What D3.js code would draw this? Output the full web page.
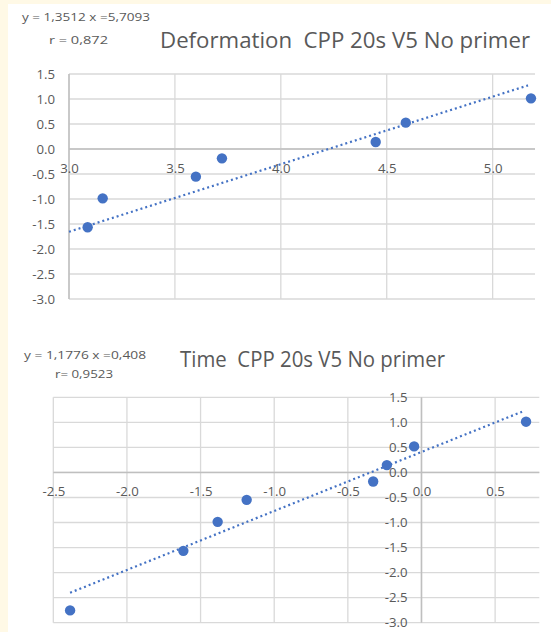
<!DOCTYPE html>
<html>
<head>
<meta charset="utf-8">
<script src="https://cdn.jsdelivr.net/npm/d3@7"></script>
<style>
  html, body { margin: 0; padding: 0; background: #FFF9E6; }
  svg { display: block; }
  text { font-family: "Open Sans", "Noto Sans", sans-serif; fill: #595959; }
</style>
</head>
<body>
<svg id="chart" width="551" height="632"></svg>
<script>
// ---- Data ----
const defX = [3.088, 3.159, 3.599, 3.722, 4.448, 4.590, 5.181];
const defY = [-1.566, -0.987, -0.553, -0.187, 0.140, 0.527, 1.013];
const defTrend = [1.3512, -5.7093];          // slope, intercept
const defTrendRange = [3.0, 5.167];
const defXTicks = [3.0, 3.5, 4.0, 4.5, 5.0];
const defYTicks = [1.5, 1.0, 0.5, 0.0, -0.5, -1.0, -1.5, -2.0, -2.5, -3.0];
const defTitle = "Deformation  CPP 20s V5 No primer";
const defEq = "y = 1,3512 x =5,7093";
const defR = "r = 0,872";

const timeX = [-2.386, -1.617, -1.384, -1.187, -0.328, -0.235, -0.050, 0.710];
const timeY = [-2.754, -1.566, -0.987, -0.547, -0.180, 0.146, 0.520, 1.013];
const timeTrend = [1.1776, 0.408];
const timeTrendRange = [-2.386, 0.683];
const timeXTicks = [-2.5, -2.0, -1.5, -1.0, -0.5, 0.0, 0.5];
const timeYTicks = [1.5, 1.0, 0.5, 0.0, -0.5, -1.0, -1.5, -2.0, -2.5, -3.0];
const timeTitle = "Time  CPP 20s V5 No primer";
const timeEq = "y = 1,1776 x =0,408";
const timeR = "r= 0,9523";

const svg = d3.select("#chart");
svg.append("rect").attr("x", 8).attr("y", 4).attr("width", 543).attr("height", 628).attr("fill", "#ffffff");

const fmt = d => d.toFixed(1);
const blue = "#4472C4";

function drawChart(cfg) {
  const x = d3.scaleLinear().domain(cfg.xDomain).range([cfg.left, cfg.right]);
  const y = d3.scaleLinear().domain([-3, 1.5]).range([cfg.bottom, cfg.top]);
  const g = svg.append("g");

  // horizontal gridlines
  g.append("g").selectAll("line").data(cfg.yTicks).join("line")
    .attr("x1", cfg.left).attr("x2", cfg.right)
    .attr("y1", d => y(d)).attr("y2", d => y(d))
    .attr("stroke", "#D9D9D9").attr("stroke-width", 1.3);
  // vertical gridlines
  g.append("g").selectAll("line").data(cfg.xTicks).join("line")
    .attr("x1", d => x(d)).attr("x2", d => x(d))
    .attr("y1", cfg.top).attr("y2", cfg.bottom)
    .attr("stroke", "#D9D9D9").attr("stroke-width", 1.3);

  // axis lines
  const xAxisY = y(0);
  const yAxisX = x(cfg.yAxisAt);
  g.append("line").attr("x1", cfg.left).attr("x2", cfg.right)
    .attr("y1", xAxisY).attr("y2", xAxisY).attr("stroke", "#BFBFBF").attr("stroke-width", 1.5);
  g.append("line").attr("x1", yAxisX).attr("x2", yAxisX)
    .attr("y1", cfg.top).attr("y2", cfg.bottom).attr("stroke", "#BFBFBF").attr("stroke-width", 1.5);

  // axes labels via d3 axes
  const xa = g.append("g").attr("transform", `translate(0,${xAxisY})`)
    .call(d3.axisBottom(x).tickValues(cfg.xTicks).tickFormat(fmt).tickSize(0).tickPadding(cfg.xPad));
  const ya = g.append("g").attr("transform", `translate(${yAxisX},0)`)
    .call(d3.axisLeft(y).tickValues(cfg.yTicks).tickFormat(fmt).tickSize(0).tickPadding(cfg.yPad));
  [xa, ya].forEach(a => {
    a.select(".domain").remove();
    a.selectAll("text").attr("font-family", '"Open Sans", sans-serif')
      .attr("font-size", 13.2).attr("fill", "#595959");
  });

  // trendline
  const tr = cfg.trendRange.map(v => [v, cfg.trend[0] * v + cfg.trend[1]]);
  g.append("path").datum(tr)
    .attr("d", d3.line().x(d => x(d[0])).y(d => y(d[1])))
    .attr("stroke", blue).attr("stroke-width", 2.2)
    .attr("stroke-dasharray", "2 3").attr("fill", "none");

  // points
  g.append("g").selectAll("circle").data(cfg.xs.map((v, i) => [v, cfg.ys[i]])).join("circle")
    .attr("cx", d => x(d[0])).attr("cy", d => y(d[1])).attr("r", 5.2)
    .attr("fill", blue);

  // texts
  svg.append("text").attr("x", cfg.eqPos[0]).attr("y", cfg.eqPos[1])
    .attr("font-size", 11.5).attr("textLength", cfg.eqPos[2]).attr("lengthAdjust", "spacingAndGlyphs")
    .text(cfg.eq);
  svg.append("text").attr("x", cfg.rPos[0]).attr("y", cfg.rPos[1])
    .attr("font-size", 11.5).attr("textLength", cfg.rPos[2]).attr("lengthAdjust", "spacingAndGlyphs")
    .text(cfg.r);
  svg.append("text").attr("x", cfg.titlePos[0]).attr("y", cfg.titlePos[1])
    .attr("font-size", 21).attr("textLength", cfg.titlePos[2]).attr("lengthAdjust", "spacingAndGlyphs")
    .style("white-space", "pre").attr("xml:space", "preserve")
    .text(cfg.title);
}

drawChart({
  xDomain: [3.0, 5.2], left: 69, right: 535, top: 74, bottom: 299,
  xTicks: defXTicks, yTicks: defYTicks, yAxisAt: 3.0, xPad: 15, yPad: 14,
  trend: defTrend, trendRange: defTrendRange, xs: defX, ys: defY,
  eq: defEq, r: defR, title: defTitle,
  eqPos: [22, 21, 128], rPos: [49, 44, 59], titlePos: [160, 48, 370]
});

drawChart({
  xDomain: [-2.5, 0.8], left: 53.3, right: 539.3, top: 397.3, bottom: 622.7,
  xTicks: timeXTicks, yTicks: timeYTicks, yAxisAt: 0.0, xPad: 14, yPad: 14,
  trend: timeTrend, trendRange: timeTrendRange, xs: timeX, ys: timeY,
  eq: timeEq, r: timeR, title: timeTitle,
  eqPos: [24, 359, 122], rPos: [55, 378, 58], titlePos: [180, 367, 265]
});
</script>
</body>
</html>
